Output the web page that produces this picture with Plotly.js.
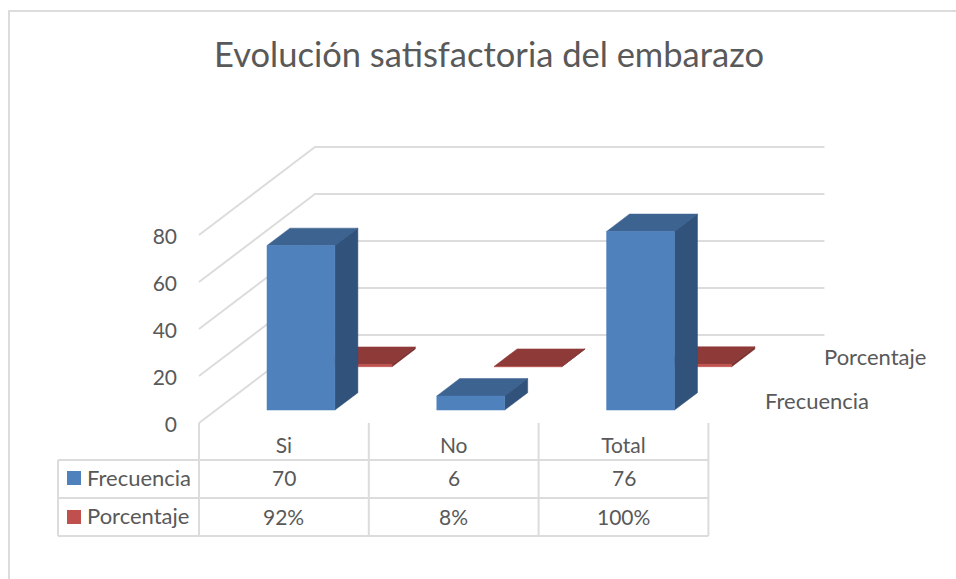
<!DOCTYPE html>
<html>
<head>
<meta charset="utf-8">
<script src="https://cdn.plot.ly/plotly-3.0.1.min.js"></script>
<style>html,body{margin:0;padding:0;background:#fff}#c{width:956px;height:579px}</style>
</head>
<body>
<div id="c"></div>
<script>
// ---- data ----
const categories = ["Si", "No", "Total"];
const frecuencia = [70, 6, 76];
const porcentaje = [0.92, 0.08, 1.00];
const seriesNames = ["Frecuencia", "Porcentaje"];
const valueTicks = [0, 20, 40, 60, 80];
const titleText = "Evolución satisfactoria del embarazo";

// ---- geometry of the oblique projection ----
const W = 956, H = 579;
const X0 = 199, Y0 = 423, CAT_W = 169.8, UNIT_H = 2.35;
const DEPTH_X = 116 / CAT_W, DEPTH_Y = 88 / UNIT_H;
const BAR_GAP = 0.3;
const DEPTHS = { Frecuencia: [0.147, 0.345], Porcentaje: [0.64, 0.84] };
const GRID = "#dcdcdc", TXT = "#595959", FONT = "Lato, 'Open Sans', sans-serif";

const proj = (c, v, d) => [c + d * DEPTH_X, v + d * DEPTH_Y];
const py = p => 1 - p / H;

function poly(points, color) {
  const xs = [], ys = [];
  points.forEach(p => { const q = proj(p[0], p[1], p[2]); xs.push(q[0]); ys.push(q[1]); });
  xs.push(xs[0]); ys.push(ys[0]);
  return { type: "scatter", mode: "lines", x: xs, y: ys, fill: "toself", fillcolor: color,
           line: { color: color, width: 0.5 }, hoverinfo: "skip", showlegend: false };
}
function gridLine(points) {
  const xs = [], ys = [];
  points.forEach(p => { const q = proj(p[0], p[1], p[2]); xs.push(q[0]); ys.push(q[1]); });
  return { type: "scatter", mode: "lines", x: xs, y: ys, line: { color: GRID, width: 2 },
           hoverinfo: "skip", showlegend: false };
}
function bar(i, v, depth, cols) {
  const a = i + BAR_GAP, b = i + 1 - BAR_GAP, d0 = depth[0], d1 = depth[1];
  return [
    poly([[a, v, d0], [b, v, d0], [b, v, d1], [a, v, d1]], cols.top),
    poly([[b, 0, d0], [b, 0, d1], [b, v, d1], [b, v, d0]], cols.side),
    poly([[a, 0, d0], [b, 0, d0], [b, v, d0], [a, v, d0]], cols.front)
  ];
}

const traces = [];
valueTicks.forEach(v => {
  traces.push(gridLine([[0, v, 0], [0, v, 1], [categories.length, v, 1]]));
});
const redCols = { front: "#c0504d", top: "#8e3a38", side: "#7a2f2d" };
const blueCols = { front: "#4f81bd", top: "#3d6391", side: "#30527b" };
porcentaje.forEach((v, i) => traces.push(...bar(i, v, DEPTHS.Porcentaje, redCols)));
frecuencia.forEach((v, i) => traces.push(...bar(i, v, DEPTHS.Frecuencia, blueCols)));

// ---- data table ----
const ROWS = [460, 498, 536], TABLE_LEFT = 58;
const shapes = [];
const line = (x0, y0, x1, y1, w) => ({ type: "line", xref: "paper", yref: "paper",
  x0: x0 / W, x1: x1 / W, y0: py(y0), y1: py(y1), line: { color: GRID, width: w || 2 } });
ROWS.forEach(r => shapes.push(line(TABLE_LEFT, r, X0 + categories.length * CAT_W, r)));
shapes.push(line(TABLE_LEFT, ROWS[0], TABLE_LEFT, ROWS[2]));
for (let i = 0; i <= categories.length; i++) {
  const x = X0 + i * CAT_W;
  shapes.push(line(x, Y0, x, ROWS[2]));
}
// chart frame
shapes.push(line(8, 11, W, 11), line(9, 11, 9, H));
// legend keys
[[478, blueCols.front], [517, redCols.front]].forEach(k => {
  shapes.push({ type: "rect", xref: "paper", yref: "paper", x0: 67 / W, x1: 81 / W,
    y0: py(k[0] + 7), y1: py(k[0] - 7), fillcolor: k[1], line: { width: 0 } });
});

const FS = 22, FS_NUM = 21;
const annotations = [];
const note = (text, xpx, ypx, anchor, size) => annotations.push({ text, xref: "paper", yref: "paper",
  x: xpx / W, y: py(ypx), xanchor: anchor || "center", yanchor: "middle", showarrow: false,
  font: { family: FONT, size: size || FS, color: TXT } });
note(seriesNames[0], 85, 477, "left");
note(seriesNames[1], 85, 515.5, "left");
note(seriesNames[0], 763, 400.5, "left");
note(seriesNames[1], 822, 356.5, "left");
categories.forEach((c, i) => {
  const cx = X0 + (i + 0.5) * CAT_W;
  note(String(frecuencia[i]), cx, 477.5, "center", FS_NUM);
  note(Math.round(porcentaje[i] * 100) + "%", cx, 516, "center", FS_NUM);
});

const layout = {
  width: W, height: H, margin: { l: 0, r: 0, t: 0, b: 0 },
  paper_bgcolor: "#fff", plot_bgcolor: "#fff", showlegend: false,
  title: { text: titleText, x: 489 / W, xanchor: "center", y: py(55), yanchor: "middle",
           font: { family: FONT, size: 34.5, color: TXT } },
  xaxis: {
    range: [-X0 / CAT_W, (W - X0) / CAT_W], showgrid: false, zeroline: false, showline: false,
    tickmode: "array", tickvals: categories.map((c, i) => i + 0.5), ticktext: categories,
    ticks: "", anchor: "free", position: (H - Y0) / H, ticklabelstandoff: 8,
    tickfont: { family: FONT, size: FS_NUM, color: TXT }
  },
  yaxis: {
    range: [(Y0 - H) / UNIT_H, Y0 / UNIT_H], showgrid: false, zeroline: false, showline: false,
    tickmode: "array", tickvals: valueTicks, ticktext: valueTicks.map(String),
    ticks: "", anchor: "free", position: X0 / W, ticklabelstandoff: 22, ticklabelshift: 2,
    tickfont: { family: FONT, size: FS_NUM, color: TXT }
  },
  shapes, annotations
};
Plotly.newPlot("c", traces, layout, { displayModeBar: false, responsive: false });
</script>
</body>
</html>
